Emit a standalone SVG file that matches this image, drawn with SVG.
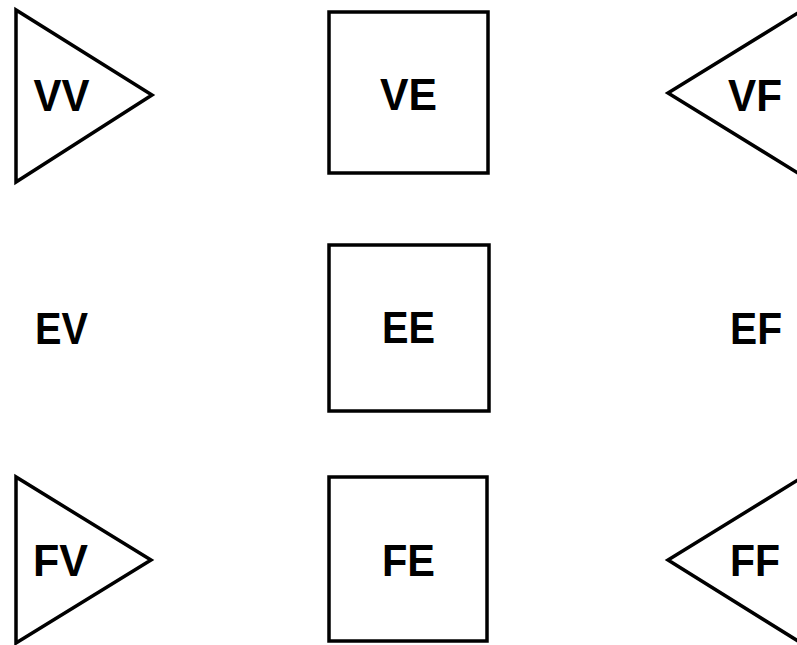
<svg xmlns="http://www.w3.org/2000/svg" width="797" height="645" viewBox="0 0 797 645">
<style>
.s{fill:#fff;stroke:#000;stroke-width:3.5;stroke-linejoin:miter}
.t{font-family:"Liberation Sans",Arial,sans-serif;font-weight:bold;font-size:45px;fill:#000;text-anchor:middle}
</style>
<rect width="797" height="645" fill="#fff"/>
<g id="VV"><polygon class="s" points="16,10 16,182 152,95"/><text class="t" x="61.5" y="111" textLength="56" lengthAdjust="spacingAndGlyphs">VV</text></g>
<g id="VE"><rect class="s" x="329" y="12" width="159" height="161"/><text class="t" x="408.5" y="110" textLength="57" lengthAdjust="spacingAndGlyphs">VE</text></g>
<g id="VF"><polygon class="s" points="806,8 668,93 806,178"/><text class="t" x="755" y="111" textLength="54" lengthAdjust="spacingAndGlyphs">VF</text></g>
<g id="EV"><text class="t" x="61.5" y="344" textLength="53" lengthAdjust="spacingAndGlyphs">EV</text></g>
<g id="EE"><rect class="s" x="329" y="245" width="160" height="166"/><text class="t" x="408.5" y="343" textLength="53" lengthAdjust="spacingAndGlyphs">EE</text></g>
<g id="EF"><text class="t" x="756" y="344" textLength="52" lengthAdjust="spacingAndGlyphs">EF</text></g>
<g id="FV"><polygon class="s" points="16,477 16,643 151,560"/><text class="t" x="60.5" y="576" textLength="55" lengthAdjust="spacingAndGlyphs">FV</text></g>
<g id="FE"><rect class="s" x="329" y="477" width="158" height="164"/><text class="t" x="408.5" y="576" textLength="53" lengthAdjust="spacingAndGlyphs">FE</text></g>
<g id="FF"><polygon class="s" points="806,475 668,560 806,646"/><text class="t" x="755" y="576" textLength="50" lengthAdjust="spacingAndGlyphs">FF</text></g>
<g id="connectors"></g>
</svg>
